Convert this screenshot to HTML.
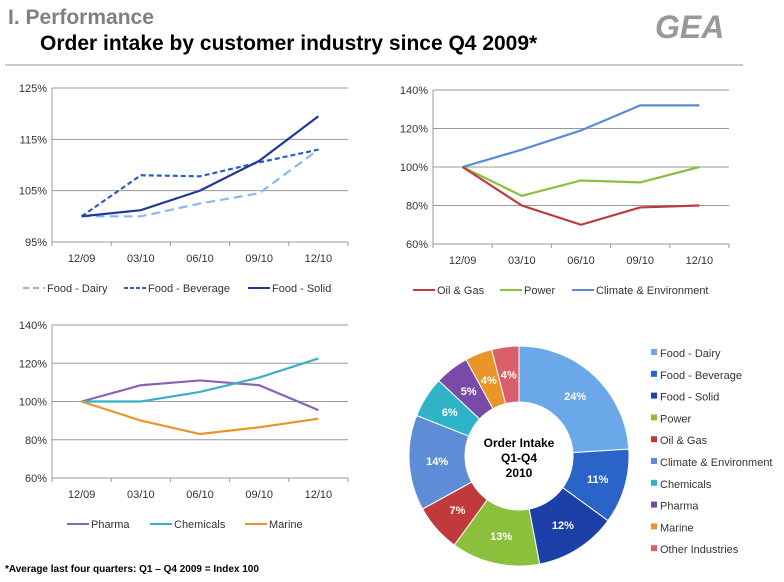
<!DOCTYPE html>
<html><head><meta charset="utf-8"><style>
body{margin:0;width:784px;height:577px;background:#fff;overflow:hidden;font-family:"Liberation Sans",sans-serif;}
svg text{font-family:"Liberation Sans",sans-serif;}
</style></head><body>
<svg id="s" width="784" height="577" xmlns="http://www.w3.org/2000/svg">
<text x="8" y="24" font-size="21" font-weight="bold" fill="#808080">I.  Performance</text>
<text x="40" y="50" font-size="21" font-weight="bold" fill="#000">Order intake by customer industry since Q4 2009*</text>
<text x="655" y="38" font-size="32" font-weight="bold" fill="#999" font-style="italic">GEA</text>
<line x1="5" y1="65" x2="743" y2="65" stroke="#bbb" stroke-width="1.5"/>
<text x="5" y="572" font-size="10" font-weight="bold" fill="#000">*Average last four quarters: Q1 – Q4 2009 = Index 100</text>
<g id="c1"></g>
<g id="c2"></g>
<g id="c3"></g>
<g id="c4"></g>
</svg>
<script>
const categories=["12/09","03/10","06/10","09/10","12/10"];
const dairy=[100,100,102.5,104.5,113];
const beverage=[100,108,107.8,110.5,113];
const solid=[100,101.2,105,110.8,119.5];
const ticks1=[95,105,115,125];
const climate=[100,109,119,132,132];
const power=[100,85,93,92,100];
const oilgas=[100,80,70,79,80];
const ticks2=[60,80,100,120,140];
const pharma=[100,108.5,111,108.5,95.5];
const chemicals=[100,100,105,112.5,122.5];
const marine=[100,90,83,86.5,91];
const ticks3=[60,80,100,120,140];
const pieLabels=["Food - Dairy","Food - Beverage","Food - Solid","Power","Oil & Gas","Climate & Environment","Chemicals","Pharma","Marine","Other Industries"];
const pieValues=[24,11,12,13,7,14,6,5,4,4];
const pieColors=["#6aa8ea","#2a64c8","#1d3fa8","#8cbf3c","#c0393b","#5e8cd6","#2fb3c8","#7a4aa8","#e8952a","#d9606a"];
const NS="http://www.w3.org/2000/svg";
function mk(p,t,a){const e=document.createElementNS(NS,t);for(const k in a)e.setAttribute(k,a[k]);p.appendChild(e);return e;}
function chart(gid,x0,x1,y0,y1,ticks,series,legendY,legendItems){
  const g=document.getElementById(gid);
  const min=ticks[0],max=ticks[ticks.length-1];
  const ys=v=>y0-(v-min)/(max-min)*(y0-y1);
  const bw=(x1-x0)/categories.length;
  const xs=i=>x0+bw*(i+0.5);
  ticks.forEach(t=>{
    const l=mk(g,'line',{x1:x0,x2:x1,y1:ys(t),y2:ys(t),stroke:'#999','stroke-width':1});
    
    
    const tx=mk(g,'text',{x:x0-5,y:ys(t)+4,'font-size':11,'text-anchor':'end',fill:'#333'});tx.textContent=t+'%';
    
    
  });
  mk(g,'line',{x1:x0,x2:x0,y1:y1,y2:y0,stroke:'#999'});
  for(let i=0;i<=categories.length;i++){mk(g,'line',{x1:x0+bw*i,x2:x0+bw*i,y1:y0,y2:y0+4,stroke:'#999'});}
  categories.forEach((c,i)=>{
    const tx=mk(g,'text',{x:xs(i),y:y0+20,'font-size':11,'text-anchor':'middle',fill:'#333'});tx.textContent=c;
    
    
  });
  series.forEach(s=>{
    const p=mk(g,'polyline',{points:s.v.map((v,i)=>xs(i)+','+ys(v)).join(' '),fill:'none',stroke:s.c,'stroke-width':2.2,'stroke-dasharray':s.d||'none'});
    
    
  });
  legendItems.forEach(it=>{
    mk(g,'line',{x1:it.x,x2:it.x+22,y1:legendY,y2:legendY,stroke:it.c,'stroke-width':2,'stroke-dasharray':it.d||'none'});
    const tx=mk(g,'text',{x:it.x+24,y:legendY+4,'font-size':11,fill:'#333'});tx.textContent=it.t;
    
    
  });
}
chart('c1',52,348,242,88,ticks1,[
 {v:dairy,c:'#8ab8f0',d:'9,5',n:'line-food-dairy'},{v:beverage,c:'#2e5fc0',d:'5,3',n:'line-food-beverage'},{v:solid,c:'#1f3a9a',n:'line-food-solid'}],
 288,[{x:23,c:'#8ab8f0',d:'6,4',t:'Food - Dairy'},{x:124,c:'#2e5fc0',d:'4,2',t:'Food - Beverage'},{x:248,c:'#1f3a9a',t:'Food - Solid'}]);
chart('c2',433,729,244,90,ticks2,[
 {v:climate,c:'#5b8ad6',n:'line-climate'},{v:power,c:'#8cbf3c',n:'line-power'},{v:oilgas,c:'#c0393b',n:'line-oil-gas'}],
 290,[{x:413,c:'#c0393b',t:'Oil & Gas'},{x:500,c:'#8cbf3c',t:'Power'},{x:572,c:'#5b8ad6',t:'Climate & Environment'}]);
chart('c3',52,348,478,325,ticks3,[
 {v:pharma,c:'#8a64b4',n:'line-pharma'},{v:chemicals,c:'#3ab0c8',n:'line-chemicals'},{v:marine,c:'#e8952a',n:'line-marine'}],
 524,[{x:67,c:'#8a64b4',t:'Pharma'},{x:150,c:'#3ab0c8',t:'Chemicals'},{x:245,c:'#e8952a',t:'Marine'}]);
// donut
(function(){
 const g=document.getElementById('c4');const cx=519,cy=456,R=110,r=54;
 const tot=pieValues.reduce((a,b)=>a+b,0);let a=-Math.PI/2;
 pieValues.forEach((v,i)=>{
  const a2=a+v/tot*2*Math.PI;const lg=(a2-a)>Math.PI?1:0;
  const P=(rr,an)=>(cx+rr*Math.cos(an)).toFixed(1)+','+(cy+rr*Math.sin(an)).toFixed(1);
  const p=mk(g,'path',{d:`M${P(R,a)} A${R},${R} 0 ${lg} 1 ${P(R,a2)} L${P(r,a2)} A${r},${r} 0 ${lg} 0 ${P(r,a)} Z`,fill:pieColors[i],stroke:'#fff','stroke-width':1});
  
  
  const m=(a+a2)/2,lr=(R+r)/2;
  const t=mk(g,'text',{x:cx+lr*Math.cos(m),y:cy+lr*Math.sin(m)+4,'font-size':11,'font-weight':'bold',fill:'#fff','text-anchor':'middle'});t.textContent=v+'%';
  
  
  a=a2;
 });
 ['Order Intake','Q1-Q4','2010'].forEach((s,i)=>{const t=mk(g,'text',{x:cx,y:cy-9+i*15,'font-size':12,'font-weight':'bold','text-anchor':'middle',fill:'#000'});t.textContent=s;
  
  });
 pieLabels.forEach((l,i)=>{const y=354+i*21.8;
  mk(g,'rect',{x:651,y:y-5,width:6,height:6,fill:pieColors[i]});
  const t=mk(g,'text',{x:660,y:y+3,'font-size':11,fill:'#333'});t.textContent=l;
  
  });
})();
</script>
</body></html>
